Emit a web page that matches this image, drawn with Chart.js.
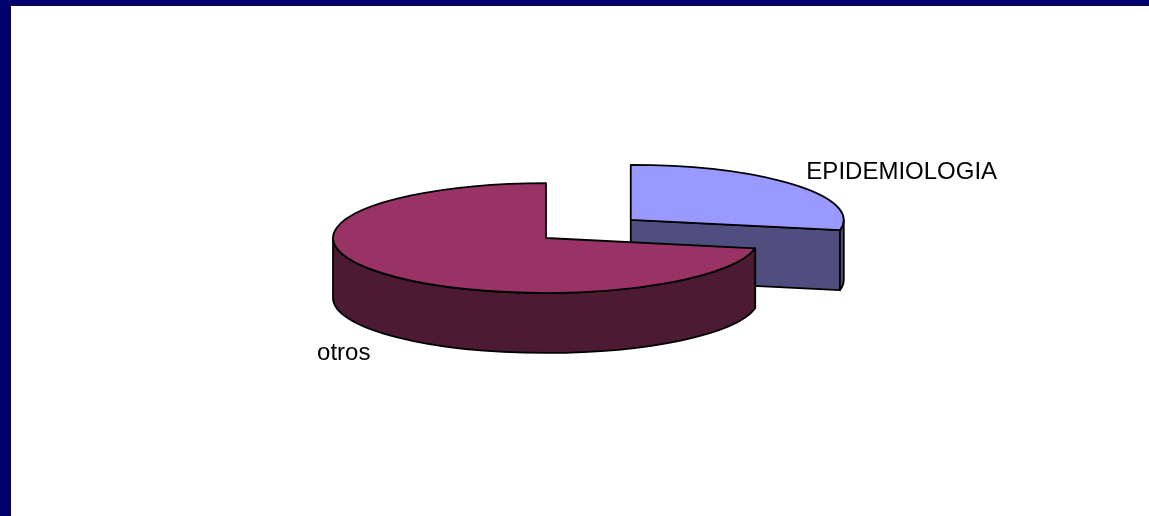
<!DOCTYPE html>
<html>
<head>
<meta charset="utf-8">
<script src="https://cdn.jsdelivr.net/npm/chart.js@4/dist/chart.umd.min.js"></script>
<style>
body {
	margin: 0;
	width: 1149px;
	height: 516px;
	background: #00006e;
	overflow: hidden;
}
.frame {
	position: absolute;
	left: 10px;
	top: 5px;
	width: 1138px;
	height: 510px;
	background: #ffffff;
	border-left: 1px solid #0a0a2a;
	border-top: 1px solid #0a0a2a;
}
</style>
</head>
<body>
<div class="frame">
	<canvas id="pie3d" width="1138" height="510"></canvas>
</div>
<script>
// values
var labels = ['EPIDEMIOLOGIA', 'otros'];
var values = [28, 72];
var topColors = ['#9999ff', '#993366'];
var sideColors = ['#4f4f7f', '#4d1a33'];
var explode = [110, 0];

var tilt = 0.258;   // vertical squash of the top face
var depth = 60;     // thickness of the pie

var pie3d = {
	id: 'pie3d',
	beforeDatasetsDraw: function (chart) {
		var ctx = chart.ctx;
		var meta = chart.getDatasetMeta(0);
		ctx.save();
		ctx.lineWidth = 1.8;
		ctx.strokeStyle = '#000';
		ctx.lineJoin = 'round';

		meta.data.forEach(function (el, i) {
			var p = el.getProps(['x', 'y', 'startAngle', 'endAngle', 'outerRadius']);
			var r = p.outerRadius;
			var ry = r * tilt;
			var s = p.startAngle, e = p.endAngle;
			var mid = (s + e) / 2;
			var off = el.options.offset || 0;
			var cx = p.x + Math.cos(mid) * off;
			var cy = p.y + Math.sin(mid) * off * tilt;

			function pt(a) { return [cx + r * Math.cos(a), cy + ry * Math.sin(a)]; }

			ctx.fillStyle = sideColors[i];

			// cut faces facing the viewer
			[[s, -1], [e, 1]].forEach(function (f) {
				var vis = f[1] * Math.cos(f[0]);
				if (vis <= 0.01) return;
				var q = pt(f[0]);
				ctx.beginPath();
				ctx.moveTo(cx, cy);
				ctx.lineTo(q[0], q[1]);
				ctx.lineTo(q[0], q[1] + depth);
				ctx.lineTo(cx, cy + depth);
				ctx.closePath();
				ctx.fill();
				ctx.stroke();
			});

			// outer rim, front half only
			[-2 * Math.PI, 0, 2 * Math.PI].forEach(function (k) {
				var lo = Math.max(s, k), hi = Math.min(e, Math.PI + k);
				if (hi - lo <= 0.001) return;
				ctx.beginPath();
				ctx.ellipse(cx, cy, r, ry, 0, lo, hi);
				ctx.ellipse(cx, cy + depth, r, ry, 0, hi, lo, true);
				ctx.closePath();
				ctx.fill();
				ctx.stroke();
			});

			// top face
			ctx.fillStyle = topColors[i];
			ctx.beginPath();
			ctx.moveTo(cx, cy);
			ctx.ellipse(cx, cy, r, ry, 0, s, e);
			ctx.closePath();
			ctx.fill();
			ctx.stroke();

			// label
			var c = Math.cos(mid), sn = Math.sin(mid);
			var lx = cx + c * r * 1.07;
			var ly = cy + sn * ry * 1.35 + (sn > 0 ? depth * 1.14 : 0);
			ctx.fillStyle = '#000';
			ctx.font = '24px "Liberation Sans", Arial, sans-serif';
			ctx.textBaseline = 'middle';
			ctx.textAlign = c >= 0 ? 'left' : 'right';
			ctx.fillText(chart.data.labels[i], lx, ly);
		});

		ctx.restore();
		return false;
	}
};

var ctx = document.getElementById('pie3d').getContext('2d');
var chart = new Chart(ctx, {
	type: 'pie',
	data: {
		labels: labels,
		datasets: [{
			data: values,
			backgroundColor: topColors,
			offset: explode,
			radius: 213,
			borderWidth: 0
		}]
	},
	options: {
		responsive: false,
		animation: false,
		layout: {
			padding: { left: 0, top: 0, right: 68, bottom: 46 }
		},
		plugins: {
			legend: { display: false },
			tooltip: { enabled: false }
		}
	},
	plugins: [pie3d]
});
</script>
</body>
</html>
